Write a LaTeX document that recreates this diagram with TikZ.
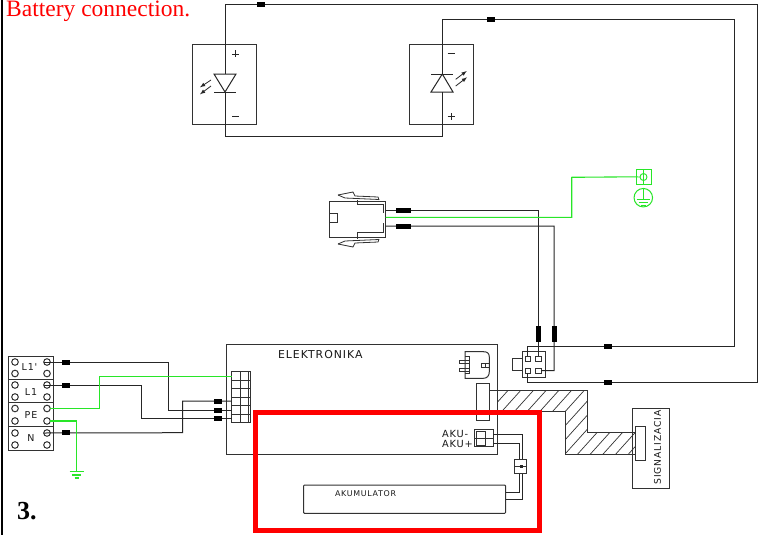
\documentclass[tikz,border=0pt]{standalone}
\usepackage{fontspec}
\setmainfont{Liberation Serif}
\newfontfamily\cadfont[LetterSpace=9]{DejaVu Sans}
\definecolor{wgreen}{RGB}{40,230,40}
\definecolor{wdark}{RGB}{50,50,50}
\tikzset{
  box/.style={draw=wdark,line width=1pt,inner sep=0pt,outer sep=0pt},
  wire/.style={draw=black!85,line width=1pt,line join=miter},
  gwire/.style={draw=wgreen,line width=1.1pt},
  fuseh/.style={fill=black,draw=none,inner sep=0pt,outer sep=0pt,minimum width=8pt,minimum height=5pt},
  fusev/.style={fill=black,draw=none,inner sep=0pt,outer sep=0pt,minimum width=5pt,minimum height=16pt},
  fuses/.style={fill=black,draw=none,inner sep=0pt,outer sep=0pt,minimum width=15pt,minimum height=5pt},
  cad/.style={inner sep=0pt,outer sep=0pt,text=black!90,font=\cadfont\fontsize{#1}{#1}\selectfont},
  screw/.style={circle,draw=wdark,line width=1pt,minimum size=6.6pt,inner sep=0pt,outer sep=0pt}
}
\newcommand{\bx}[6][]{%
  \pgfmathsetmacro{\bw}{#5-#3}\pgfmathsetmacro{\bh}{#6-#4}%
  \pgfmathsetmacro{\cx}{(#5+#3)/2}\pgfmathsetmacro{\cy}{(#6+#4)/2}%
  \node[box,minimum width=\bw pt,minimum height=\bh pt,#1] (#2) at (\cx,\cy) {};}
\begin{document}
\begin{tikzpicture}[x=1pt,y=-1pt]
\useasboundingbox (0,0) rectangle (773,535);
\fill[white] (0,0) rectangle (773,535);
% left rule
\fill[black] (0.6,0) rectangle (2.8,535);
% title texts
\node[anchor=base west,inner sep=0pt,text=red,font=\fontsize{23.5}{24}\selectfont] (title) at (6,17) {Battery connection.};
\node[anchor=base west,inner sep=0pt,font=\bfseries\fontsize{26}{26}\selectfont] (three) at (17,519) {3.};

% LED boxes
\bx{ledL}{192.3}{45}{256}{124.3}
\bx{ledR}{409.3}{45}{473.3}{124.3}
\coordinate (aL) at (225,74); \coordinate (cL) at (225,92);
\coordinate (cR) at (442.3,74); \coordinate (aR) at (442.3,92);
\draw[wire] (aL) -- (214,74) -- (cL) -- (236,74) -- (aL);
\draw[wire] (214,92) -- (236,92);
\draw[wire] (431,74) -- (453,74);
\draw[wire] (cR) -- (431,92) -- (453,92) -- (cR);
\draw[wire,line width=.8pt,-latex] (211,80) -- (200,87.3);
\draw[wire,line width=.8pt,-latex] (211,86) -- (200,94.3);
\draw[wire,line width=.8pt,-latex] (455.7,79.3) -- (466.7,71);
\draw[wire,line width=.8pt,-latex] (455.7,86) -- (467,77.3);
\draw[wire,line width=.8pt] (232,54) -- (239,54) (235.5,50.5) -- (235.5,57.5);
\draw[wire,line width=.8pt] (232,116.5) -- (239,116.5);
\draw[wire,line width=.8pt] (447.5,53) -- (454.5,53);
\draw[wire,line width=.8pt] (447.5,116.5) -- (454.5,116.5) (451,113) -- (451,120);
\draw[wire] (cL) -- (225,136) -- (442.3,136) -- (aR);

% 4-pin connector
\bx{conn}{522.3}{351.7}{545}{377.3}
\bx{ctab}{512.5}{358.7}{522.3}{370.5}
\bx{p1}{525}{356}{530.5}{361.7}
\bx{p2}{535.5}{356}{541}{361.7}
\bx{p3}{525}{368}{530.5}{373.3}
\bx{p4}{535.5}{368}{541}{373.3}

% long wires
\draw[wire] (p1.north) -- (527.75,346) -- (734,346) -- (734,20) -- (442.3,20) -- (cR);
\draw[wire] (p3.south) -- (527.75,382.7) -- (757,382.7) -- (757,4.3) -- (225,4.3) -- (aL);
\node[fuseh] (ft1) at (260.5,4.3) {};
\node[fuseh] (ft2) at (490.5,20) {};
\node[fuseh] (ft3) at (608.2,346) {};
\node[fuseh] (ft4) at (608.2,382.7) {};

% plug
\coordinate (pg1) at (385.7,210.7); \coordinate (pg2) at (385.7,226); \coordinate (pg3) at (385.7,217.3);
\draw[box] (329.3,201) -- (385.7,201) -- (385.7,237.3) -- (329.3,237.3) -- cycle;
\draw[box] (357,199.5) -- (357,204.5) -- (383,204.5) -- (383,213);
\draw[box] (357,239) -- (357,232.5) -- (383,232.5) -- (383,223);
\draw[box] (330,213) -- (337,213) -- (337,222) -- (330,222);
\draw[box,line width=.8pt] (338,195) -- (353,192) -- (355,196) -- (378,197) -- (379,200);
\draw[box,line width=.8pt] (338,195) -- (345,198) -- (379,199.5);
\draw[box,line width=.8pt] (338,244) -- (353,247) -- (355,243) -- (378,242) -- (379,239);
\draw[box,line width=.8pt] (338,244) -- (345,241) -- (379,239.5);
\draw[wire] (pg1) -- (538.25,210.7) -- (p2.north);
\draw[wire] (pg2) -- (554,226) -- (554,370.7) -- (p4.east);
\node[fuses] (fp1) at (403.5,210.7) {};
\node[fuses] (fp2) at (403.5,226) {};
\node[fusev] (fv1) at (538.25,334) {};
\node[fusev] (fv2) at (554,334) {};

% earth symbol
\bx[draw=wgreen]{esq}{636}{169.3}{651}{184.3}
\node[circle,draw=wgreen,line width=.9pt,minimum size=7pt,inner sep=0pt,outer sep=0pt] (ecirc) at (643.5,177) {};
\draw[gwire,line width=.8pt] (esq.north) -- (esq.south);
\draw[gwire] (pg3) -- (571.7,217.3) -- (571.7,177.3) -- (esq.west);
\draw[gwire,line width=.8pt] (esq.west) -- (ecirc.west);
\node[circle,draw=wgreen,line width=1pt,minimum size=18.5pt,inner sep=0pt,outer sep=0pt] (egnd) at (643.3,197.7) {};
\draw[gwire,line width=.8pt] (egnd.north) -- (643.3,199) (636.5,199) -- (650,199) (638.5,202) -- (648,202) (640.5,205) -- (646,205);

% electronics box
\bx{elek}{226}{344}{497.5}{454}
\node[cad=10.9,anchor=west] (elabel) at (278,355) {ELEKTRONIKA};

% outlet
\draw[box] (465,351.7) -- (483.3,351.7) .. controls (487,351.7) and (489.3,353) .. (489.3,357) -- (489.3,371.7) .. controls (489.3,376) and (487,378.3) .. (483.3,378.3) -- (465,378.3) -- cycle;
\draw[box] (465,356.7) -- (469,356.7) -- (469,373.3) -- (465,373.3);
\draw[box,line width=.8pt] (459.3,360) -- (469,360) (459.3,363.5) -- (469,363.5) (459.3,368) -- (469,368) (459.3,371.5) -- (469,371.5) (459.3,360) -- (459.3,363.5) (459.3,368) -- (459.3,371.5);
\draw[box,line width=.8pt] (481.7,363.3) rectangle (489,367) (485,363.3) -- (485,367);

% ribbon
\begin{scope}
\clip (498,390) -- (587.5,390) -- (587.5,432.7) -- (636,432.7) -- (636,454) -- (565,454) -- (565,411.7) -- (498,411.7) -- cycle;
\foreach \k in {-1,...,14}{
  \draw[black!80,line width=.7pt] (508.3+12.7*\k-90,390+100) -- (508.3+12.7*\k+10,390-11);
}
\end{scope}
\bx[fill=white]{rib}{476}{383.5}{489}{420}
\bx{sbox}{632.7}{408}{669}{488}
\bx[fill=white]{srib}{635.7}{426}{645.7}{460.5}
\draw[box] (rib.east |- 0,390) -- (587.5,390) -- (587.5,432.7) -- (635.7,432.7);
\draw[box] (635.7,454) -- (565,454) -- (565,411.7) -- (498,411.7);
\node[cad=9.2,rotate=90] (slabel) at (657.5,447.5) {SIGNALIZACIA};

% AKU connector and battery
\bx{aku}{474.3}{429.3}{493.3}{446.7}
\draw[box] (474.3,438) -- (493.3,438);
\draw[box] (476,431) rectangle (485,445);
\draw[box] (476,438) -- (485,438);
\node[cad=9.8,anchor=west] (lminus) at (442,434) {AKU-};
\node[cad=9.8,anchor=west] (lplus) at (442,443.5) {AKU+};
\bx{blk}{514.3}{459.3}{526.7}{473.7}
\bx[rounded corners=1pt]{batt}{303.5}{485}{505.7}{513.3}
\node[cad=7.9,anchor=west] (alabel) at (335,494) {AKUMULATOR};
\draw[wire] (493.3,434) -- (522.6,434) -- (522.6,459.3);
\draw[wire] (493.3,443) -- (519.4,443) -- (519.4,459.3);
\draw[wire] (519.4,473.7) -- (519.4,492.7) -- (505.7,492.7);
\draw[wire] (522.6,473.7) -- (522.6,499.3) -- (505.7,499.3);
\draw[box] (514.3,466.5) -- (526.7,466.5);
\fill[black!85] (519.7,464.7) rectangle (522.7,468.3);

% terminal block
\bx{tb}{8.7}{356.7}{53}{450}
\draw[box,line width=1.4pt] (8.7,379.3) -- (53,379.3) (8.7,402.7) -- (53,402.7) (8.7,426.7) -- (53,426.7);
\foreach \n/\y in {a/362,b/373.5,c/385,d/397,e/408.5,f/421,g/433,h/445}{
  \node[screw] (sl\n) at (15,\y) {};
  \node[screw] (sr\n) at (47,\y) {};
}
\node[cad=9.5] (tl1p) at (29.5,367.5) {L1'};
\node[cad=9.5] (tl1) at (31,392) {L1};
\node[cad=9.5] (tpe) at (31,415) {PE};
\node[cad=9.5] (tn) at (31,438) {N};

% terminal strip in electronics
\bx{strip}{231.5}{371.7}{250.5}{422.3}
\draw[box] (240,371.7) rectangle (248.5,422.3);
\foreach \y in {380.1,388.6,397,405.5,414}{ \draw[box] (231.5,\y) -- (250.5,\y); }
\coordinate (st1) at (231.5,376.7);
\coordinate (st2) at (231.5,401);
\coordinate (st3) at (231.5,410);
\coordinate (st4) at (231.5,418.7);

% mains wires
\draw[wire] (sra.west) -- (168,362) -- (168,410) -- (st3);
\draw[wire] (src.west) -- (141.7,385) -- (141.7,418.7) -- (st4);
\draw[wire] (srg.west) -- (182.7,432.7) -- (182.7,401) -- (st2);
\draw[gwire] (sre.east) -- (99.7,408.5) -- (99.7,376.7) -- (st1);
\draw[gwire] (srf.east) -- (76.7,421) -- (76.7,471.5);
\draw[gwire] (69.5,471.5) -- (84,471.5) (72,475) -- (81,475) (74.5,478) -- (79,478);
\node[fuseh] (fl1) at (65.7,362) {};
\node[fuseh] (fl2) at (65.7,385) {};
\node[fuseh] (fl3) at (65.7,432.7) {};
\node[fuseh] (fr1) at (217.5,401) {};
\node[fuseh] (fr2) at (217.5,410) {};
\node[fuseh] (fr3) at (217.5,418.7) {};

% red highlight
\draw[red,line width=5pt,line join=miter] (255.5,412.5) rectangle (539,530.5);
\end{tikzpicture}
\end{document}
